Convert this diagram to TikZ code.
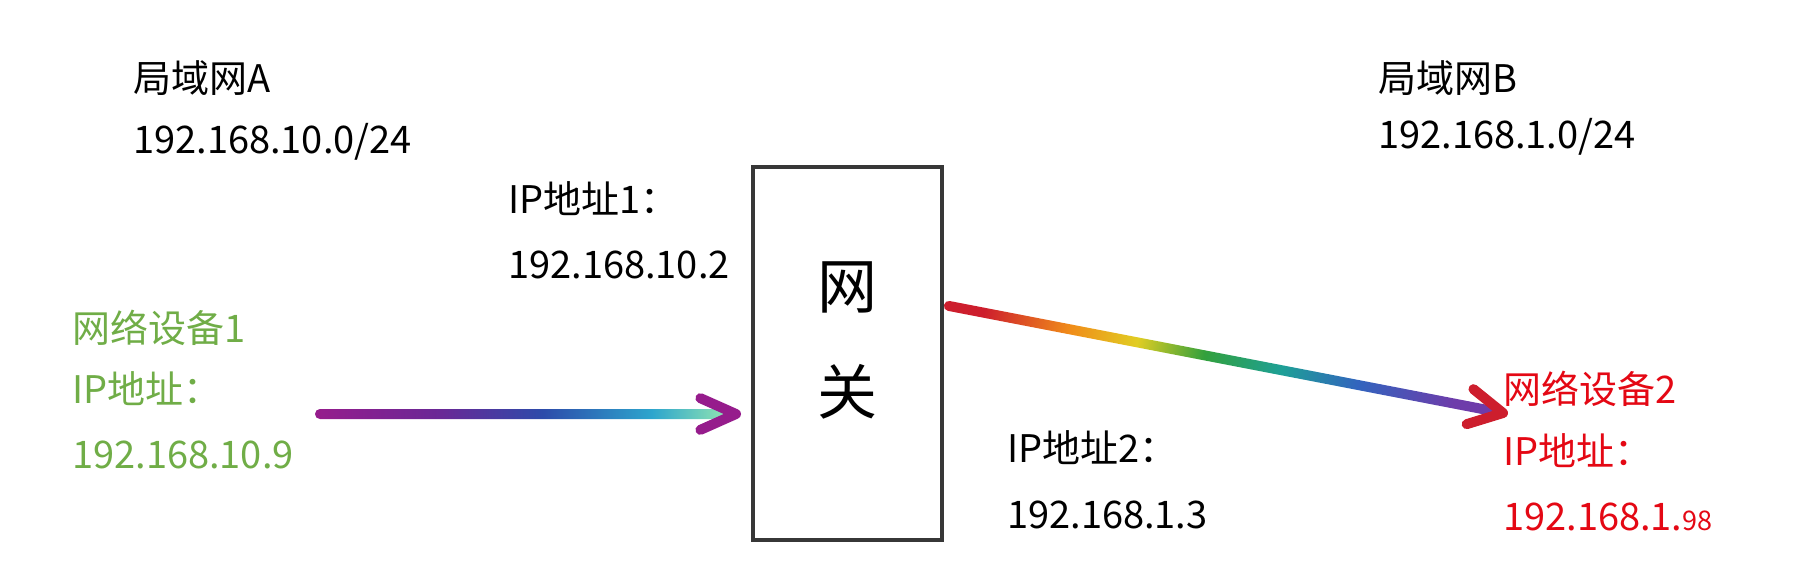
\documentclass[tikz,border=0pt]{standalone}
\usepackage{fontspec}
\setmainfont{Noto Sans CJK SC}
\usetikzlibrary{calc,positioning}
\definecolor{boxgray}{RGB}{55,55,55}
\definecolor{devgreen}{RGB}{112,173,71}
\definecolor{devred}{RGB}{228,8,20}
% glitter colours, left arrow
\definecolor{gA1}{RGB}{150,28,140}
\definecolor{gA2}{RGB}{105,40,150}
\definecolor{gA3}{RGB}{45,75,170}
\definecolor{gA4}{RGB}{45,165,205}
\definecolor{gA5}{RGB}{135,222,180}
% glitter colours, right arrow
\definecolor{gB1}{RGB}{205,30,45}
\definecolor{gB2}{RGB}{240,140,25}
\definecolor{gB3}{RGB}{225,205,35}
\definecolor{gB4}{RGB}{50,160,60}
\definecolor{gB5}{RGB}{30,160,150}
\definecolor{gB6}{RGB}{50,100,190}
\definecolor{gB7}{RGB}{110,60,170}
\pgfdeclarehorizontalshading{glitterA}{100bp}{color(0bp)=(gA1); color(25bp)=(gA1);
  color(40bp)=(gA2); color(52bp)=(gA3); color(65bp)=(gA4); color(73bp)=(gA5); color(100bp)=(gA5)}
\pgfdeclarehorizontalshading{glitterB}{100bp}{color(0bp)=(gB1); color(25bp)=(gB1);
  color(34bp)=(gB2); color(41bp)=(gB3); color(48bp)=(gB4); color(56bp)=(gB5);
  color(64bp)=(gB6); color(74bp)=(gB7); color(100bp)=(gB7)}
\tikzset{%
  % text lines
       txt/.style = {anchor=base west, inner sep=0pt, font=\fontsize{38}{46}\selectfont},
  gatebox/.style = {draw=boxgray, line width=4pt, inner sep=0pt,
                    minimum width=189pt, minimum height=373pt},
  gatetxt/.style = {inner sep=0pt, align=center, font=\fontsize{60}{106}\selectfont},
    headA/.style = {draw=gA1, line width=10pt, line cap=round, line join=round},
    headB/.style = {draw=gB1, line width=10pt, line cap=round, line join=round},
}
\begin{document}
\begin{tikzpicture}[x=1pt, y=-1pt]
\useasboundingbox (0,0) rectangle (1802,574);
% LAN labels
\node (lanA)    [txt]                                          at (133,92)  {局域网A};
\node (lanAnet) [txt, below=61pt of lanA.base west, anchor=base west]       {192.168.10.0/24};
\node (lanB)    [txt]                                          at (1378,92) {局域网B};
\node (lanBnet) [txt, below=56pt of lanB.base west, anchor=base west]       {192.168.1.0/24};
% gateway and its addresses
\node (gw)      [gatebox] at (847.5,353.5) {};
\node (gwtxt)   [gatetxt] at (847,340)     {网\\关};
\node (ipA)     [txt] at (508,213)  {IP地址1：};
\node (ipAaddr) [txt, below=65pt of ipA.base west, anchor=base west] {192.168.10.2};
\node (ipB)     [txt] at (1007,462) {IP地址2：};
\node (ipBaddr) [txt, below=66pt of ipB.base west, anchor=base west] {192.168.1.3};
% devices
\node (devA)     [txt, text=devgreen] at (72,342) {网络设备1};
\node (devAip)   [txt, text=devgreen, below=61pt of devA.base west, anchor=base west] {IP地址：};
\node (devAaddr) [txt, text=devgreen, below=65pt of devAip.base west, anchor=base west] {192.168.10.9};
\node (devB)     [txt, text=devred] at (1503,403) {网络设备2};
\node (devBip)   [txt, text=devred, below=62pt of devB.base west, anchor=base west] {IP地址：};
\node (devBaddr) [txt, text=devred, below=65pt of devBip.base west, anchor=base west]
                 {192.168.1.{\fontsize{27}{32}\selectfont 98}};
% arrow ends
\coordinate (srcA) at (315,414);
\coordinate (tipA) at ($(gw.west |- srcA)+(-15,0)$);
\coordinate (srcB) at ($(gw.east)+(0,-48.5)$);
\coordinate (tipB) at ($(devB.base west)+(0,10)$);
% glitter arrows
\shade[shading=glitterA, rounded corners=4.9pt]
  ($(srcA)!5pt!90:(tipA)$) -- ($(tipA)!5pt!-90:(srcA)$) --
  ($(tipA)!5pt!90:(srcA)$) -- ($(srcA)!5pt!-90:(tipA)$) -- cycle;
\draw[headA] ($(tipA)!39pt!24:(srcA)$) -- (tipA) -- ($(tipA)!39pt!-24:(srcA)$);
\shade[shading=glitterB, shading angle=-10.86, rounded corners=4.9pt]
  ($(srcB)!5pt!90:(tipB)$) -- ($(tipB)!5pt!-90:(srcB)$) --
  ($(tipB)!5pt!90:(srcB)$) -- ($(srcB)!5pt!-90:(tipB)$) -- cycle;
\draw[headB] ($(tipB)!38pt!28:(srcB)$) -- (tipB) -- ($(tipB)!38pt!-28:(srcB)$);
\end{tikzpicture}
\end{document}
